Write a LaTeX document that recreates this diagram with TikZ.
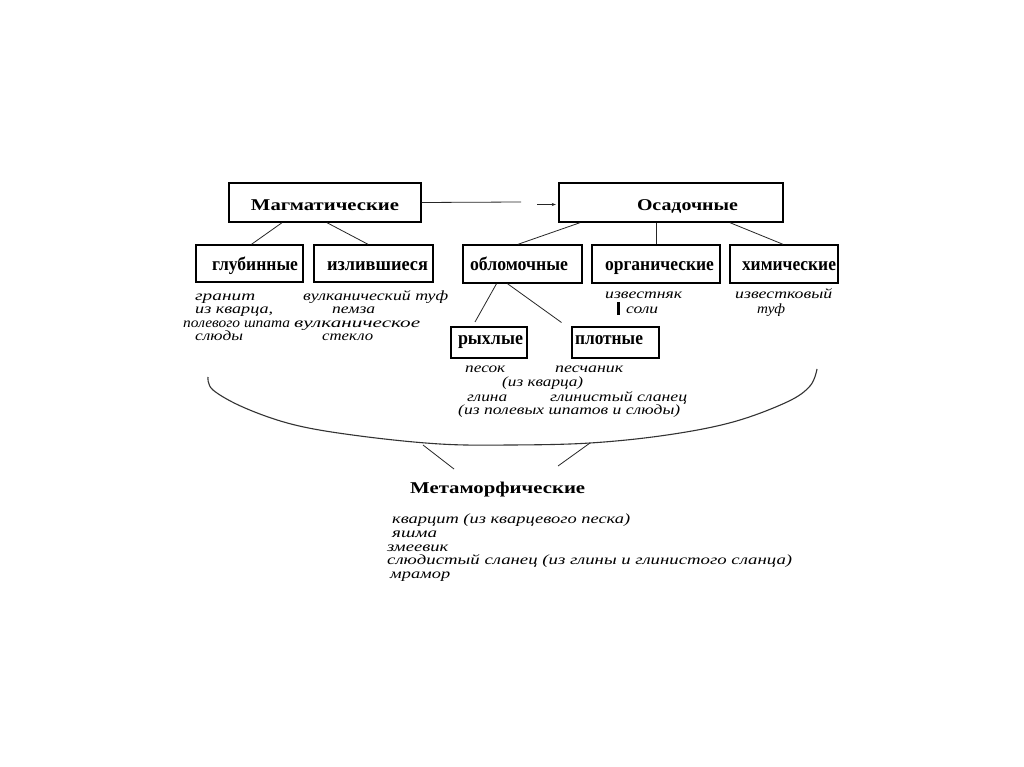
\documentclass[tikz,border=0pt]{standalone}
\usepackage{fontspec}
\setmainfont{Liberation Serif}
\usepackage{graphicx}
\usetikzlibrary{arrows.meta}
\newcommand\fw[2]{\resizebox{#1pt}{\height}{#2}}
\tikzset{
  box/.style={draw, line width=1.4pt, inner sep=0pt, text height=13pt, text depth=0pt, font=\bfseries\fontsize{19}{21}\selectfont},
  smallbox/.style={box, text height=3pt},
  bigbox/.style={box, text height=16pt, font=\bfseries\fontsize{16.5}{19}\selectfont},
  lbl/.style={inner sep=0pt, anchor=base west, font=\itshape\fontsize{14}{16}\selectfont},
  head/.style={inner sep=0pt, anchor=base west, font=\bfseries\fontsize{16.5}{19}\selectfont},
  link/.style={line width=0.8pt, draw=black!85},
}
\begin{document}
\begin{tikzpicture}[x=1pt,y=-1pt]
\fill[white] (0,0) rectangle (1024,767);
\useasboundingbox (0,0) rectangle (1024,767);

% main boxes
\node[bigbox, minimum width=192pt, minimum height=39pt] (mag) at (325,202.5) {\fw{148}{Магматические}};
\node[bigbox, minimum width=224pt, minimum height=39pt] (osad) at (671,202.5) {\hspace*{33pt}\fw{101}{Осадочные}};

% second level
\node[box, minimum width=107pt, minimum height=37pt] (glub) at (249.5,263.5) {\hspace*{11pt}\fw{86}{глубинные}};
\node[box, minimum width=119pt, minimum height=37pt] (izl) at (373.5,263.5) {\hspace*{8pt}\fw{101}{излившиеся}};
\node[box, minimum width=119pt, minimum height=38pt] (obl) at (522.5,264) {\fw{98}{обломочные}\hspace*{7pt}};
\node[box, minimum width=128pt, minimum height=38pt] (org) at (656,264) {\hspace*{7pt}\fw{109}{органические}};
\node[box, minimum width=108pt, minimum height=38pt] (him) at (784,264) {\hspace*{10pt}\fw{94}{химические}};

% third level
\node[smallbox, minimum width=76pt, minimum height=31pt] (ryh) at (489,342.5) {\hspace*{3pt}\fw{65}{рыхлые}};
\node[smallbox, minimum width=87pt, minimum height=31pt] (plot) at (615.5,342.5) {\fw{68}{плотные}\hspace*{13pt}};

% arrow between main boxes
\coordinate (gapA) at (521,202);
\coordinate (gapB) at (537,204.5);
\draw[link] (mag.east) -- (gapA);
\draw[link, -{Stealth[length=4pt,width=3pt]}] (gapB) -- ([xshift=-2.5pt]gapB -| osad.west);

% connectors
\draw[link] ([xshift=-43pt]mag.south) -- ([xshift=2pt]glub.north);
\draw[link] ([xshift=2pt]mag.south) -- ([xshift=-5.5pt]izl.north);
\draw[link] ([xshift=-91pt]osad.south) -- ([xshift=-4.5pt]obl.north);
\draw[link] (org.north |- osad.south) -- (org.north);
\draw[link] ([xshift=59pt]osad.south) -- ([xshift=-1pt]him.north);
\coordinate (rEnd) at (475,322);
\coordinate (pEnd) at (561.5,322.5);
\draw[link] ([xshift=-26pt]obl.south) -- (rEnd);
\draw[link] ([xshift=-15pt]obl.south) -- (pEnd);

% texts under boxes
\node[lbl] (g1) at (195,300) {\fw{60}{гранит}};
\node[lbl] (g2) at (195,313) {\fw{78}{из кварца,}};
\node[lbl] (g3) at (183,327) {\fw{107}{полевого шпата}};
\node[lbl] (g4) at (195,340) {\fw{48}{слюды}};

\node[lbl] (i1) at (303,300) {\fw{145}{вулканический туф}};
\node[lbl] (i2) at (332,313) {\fw{43}{пемза}};
\node[lbl] (i3) at (294,327) {\fw{126}{вулканическое}};
\node[lbl] (i4) at (322,340) {\fw{51}{стекло}};

\node[lbl] (o1) at (605,298) {\fw{77}{известняк}};
\node[lbl] (o2) at (626,313) {\fw{32}{соли}};
\draw[line width=2.2pt] (618.5,302) -- (618.5,315);

\node[lbl] (h1) at (735,298) {\fw{97}{известковый}};
\node[lbl] (h2) at (757,313) {\fw{28}{туф}};

\node[lbl] (r1) at (465,372) {\fw{40}{песок}};
\node[lbl] (r2) at (555,372) {\fw{68}{песчаник}};
\node[lbl] (r3) at (502,386) {\fw{81}{(из кварца)}};
\node[lbl] (r4) at (467,401) {\fw{40}{глина}};
\node[lbl] (r5) at (550,401) {\fw{137}{глинистый сланец}};
\node[lbl] (r6) at (458,414) {\fw{222}{(из полевых шпатов и слюды)}};

% brace
\draw[line width=1.1pt, draw=black!80] plot[smooth, tension=0.6] coordinates {(208,377) (213,390) (245,408) (295,425) (360,436) (440,444) (510,445) (590,443) (667,435) (733,422) (787,402) (810,386) (817,369)};
\coordinate (b1) at (423,445);
\coordinate (b2) at (590,443);
\coordinate (m1) at (454,469);
\coordinate (m2) at (558,466);
\draw[link] (b1) -- (m1);
\draw[link] (b2) -- (m2);

% metamorphic
\node[head] (meta) at (410,493) {\fw{175}{Метаморфические}};
\node[lbl] (k1) at (392,523) {\fw{238}{кварцит (из кварцевого песка)}};
\node[lbl] (k2) at (392,537) {\fw{45}{яшма}};
\node[lbl] (k3) at (387,551) {\fw{61}{змеевик}};
\node[lbl] (k4) at (387,564) {\fw{405}{слюдистый сланец (из глины и глинистого сланца)}};
\node[lbl] (k5) at (390,578) {\fw{60}{мрамор}};
\end{tikzpicture}
\end{document}
